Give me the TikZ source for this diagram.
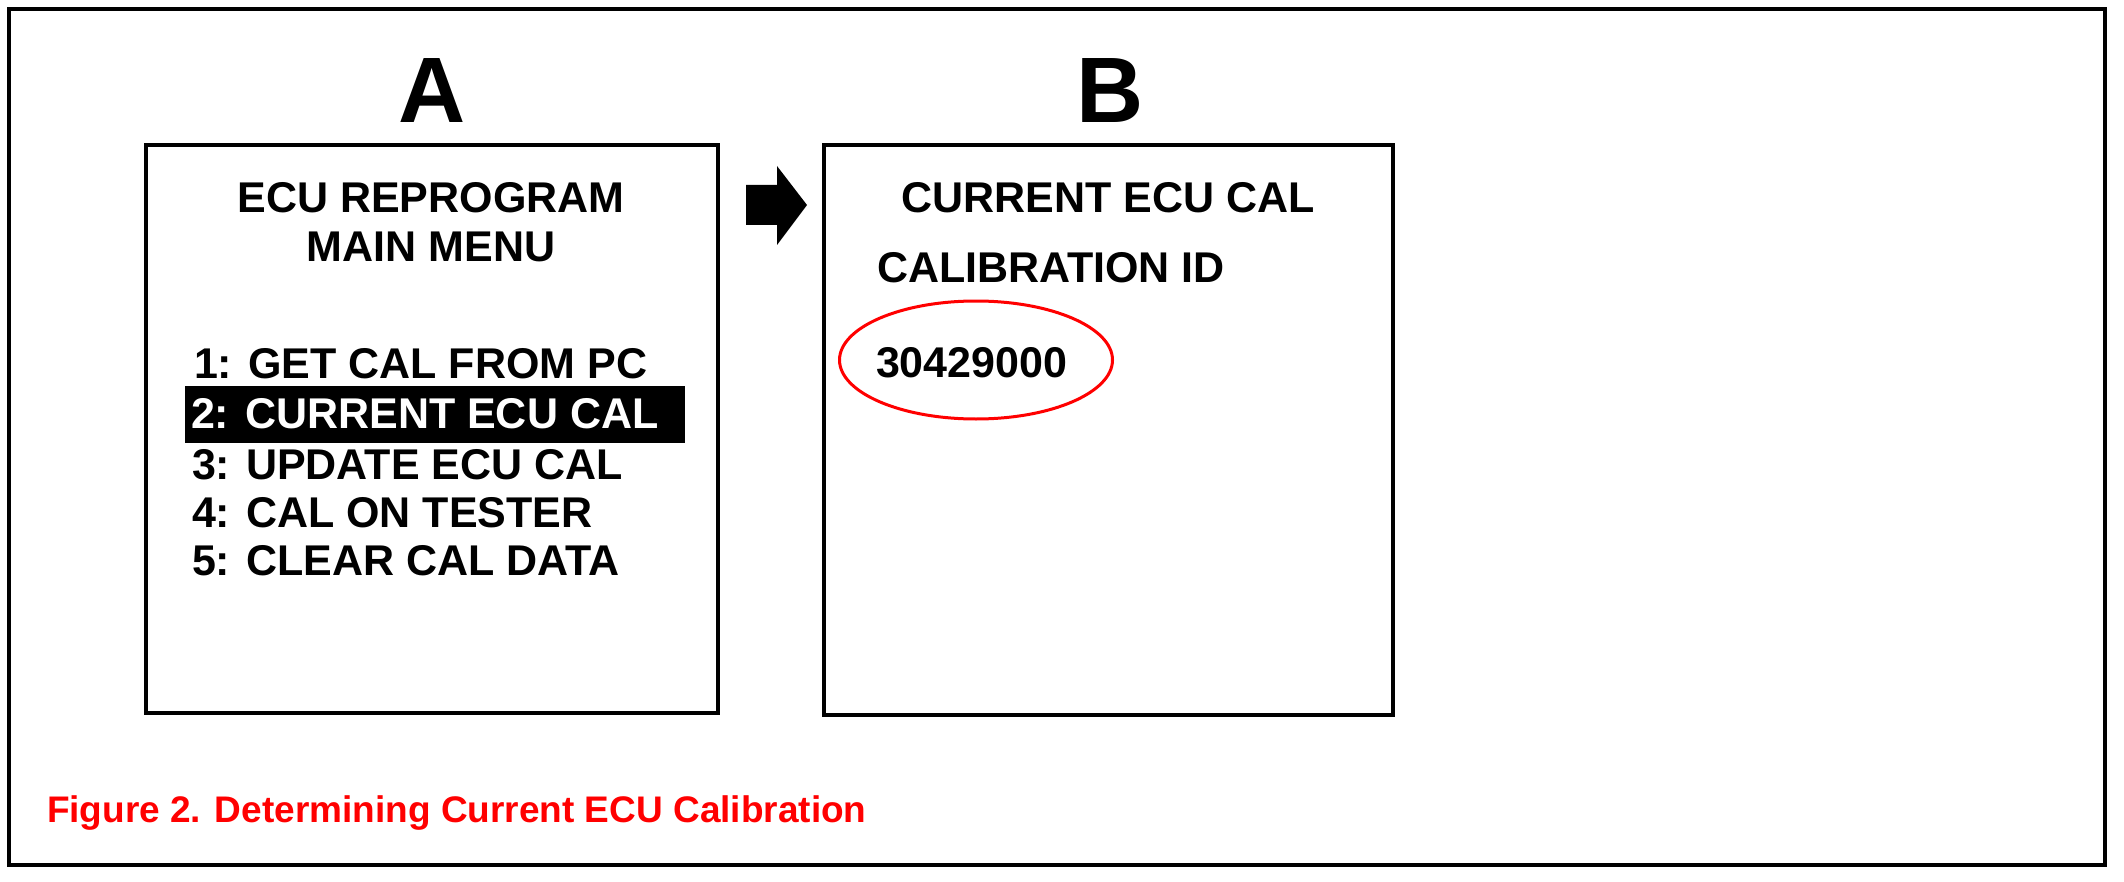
\documentclass[tikz,border=0pt]{standalone}
\usepackage{fontspec}
\setmainfont{Liberation Sans}
\begin{document}
\begin{tikzpicture}[x=0.5pt,y=-0.5pt,
  frame/.style={draw=black, line width=2pt},
  screen/.style={draw=black, line width=1.75pt, inner sep=0pt},
  txt/.style={font=\fontsize{21.5}{21.5}\selectfont\bfseries, inner sep=0pt, outer sep=0pt},
  big/.style={font=\fontsize{46.5}{46.5}\selectfont\bfseries, inner sep=0pt, outer sep=0pt},
  captxt/.style={font=\fontsize{18.5}{18.5}\selectfont\bfseries, text=red, inner sep=0pt, outer sep=0pt},
  hilite/.style={fill=black, inner sep=0pt, outer sep=0pt},
  redring/.style={draw=red, line width=1.5pt}
]
\useasboundingbox (0,0) rectangle (2124,882);
\fill[white] (0,0) rectangle (2124,882);
\draw[frame] (9,9) rectangle (2105,865);

% screens
\node[screen, minimum width=286pt, minimum height=284pt] (boxA) at (432,429) {};
\node[screen, minimum width=284.5pt, minimum height=285pt] (boxB) at (1108.5,430) {};

% headings
\node[big, anchor=base] (labA) at (432,123) {A};
\node[big, anchor=base] (labB) at (1110,123) {B};

% arrow
\fill[black] (746,185) -- (777,185) -- (777,166) -- (807,205) -- (777,245) -- (777,225) -- (746,225) -- cycle;

% screen A text
\node[txt, anchor=base] (a1) at (431,213) {ECU REPROGRAM};
\node[txt, anchor=base] (a2) at (431,262) {MAIN MENU};
\node[hilite, minimum width=250pt, minimum height=28.5pt] (hl) at (435,414.5) {};
\node[txt, anchor=base west] (m1) at (194,378) {1: GET CAL FROM PC};
\node[txt, anchor=base west, text=white] (m2) at (191,428) {2: CURRENT ECU CAL};
\node[txt, anchor=base west] (m3) at (192,479) {3: UPDATE ECU CAL};
\node[txt, anchor=base west] (m4) at (192,527) {4: CAL ON TESTER};
\node[txt, anchor=base west] (m5) at (192,575) {5: CLEAR CAL DATA};

% screen B text
\node[txt, anchor=base] (b1) at (1108,213) {CURRENT ECU CAL};
\node[txt, anchor=base west] (b2) at (877,282) {CALIBRATION ID};
\node[txt, anchor=base west] (b3) at (876,377) {30429000};
\draw[redring] (976,360) ellipse [x radius=136.5, y radius=59];

% caption
\node[captxt, anchor=base west] (capt) at (47,822) {Figure 2. Determining Current ECU Calibration};
\end{tikzpicture}
\end{document}
